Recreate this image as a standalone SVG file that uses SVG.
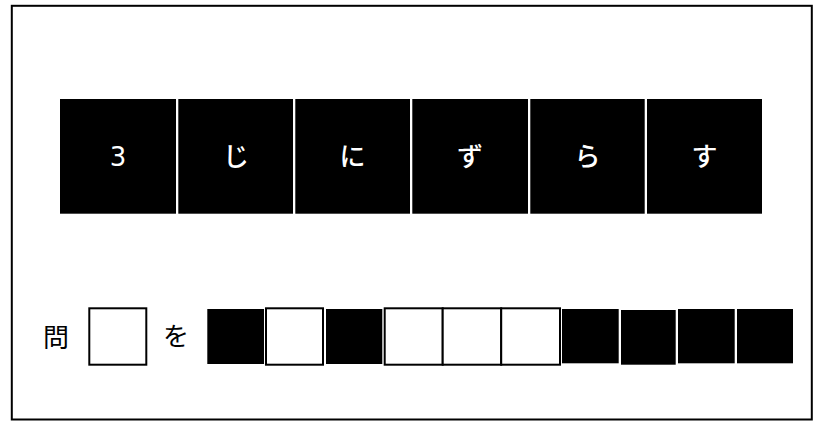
<svg xmlns="http://www.w3.org/2000/svg" width="826" height="432" viewBox="0 0 826 432">
  <style>
    .frame { fill: #ffffff; stroke: #000000; stroke-width: 2; }
    .tile { fill: #000000; }
    .box { fill: #ffffff; stroke: #000000; stroke-width: 2; }
    .wt { fill: #ffffff; font-family: "Noto Sans CJK JP", "Noto Sans", sans-serif; font-size: 26px; font-weight: 500; text-anchor: middle; }
    .num { fill: #ffffff; font-family: "DejaVu Sans", sans-serif; font-size: 26px; text-anchor: middle; }
    .bt { fill: #000000; font-family: "Noto Sans CJK JP", "Noto Sans", sans-serif; font-size: 26px; text-anchor: middle; }
  </style>
  <rect x="0" y="0" width="826" height="432" fill="#ffffff"/>
  <rect id="frame" class="frame" x="11.8" y="5.8" width="800" height="413.7"/>

  <g id="word">
    <g id="w1"><rect class="tile" x="60" y="99" width="116" height="114.7"/><text class="num" x="118" y="166">3</text></g>
    <g id="w2"><rect class="tile" x="178.3" y="99" width="114.7" height="114.7"/><text class="wt" x="236" y="166">じ</text></g>
    <g id="w3"><rect class="tile" x="295.3" y="99" width="114.7" height="114.7"/><text class="wt" x="352.6" y="166">に</text></g>
    <g id="w4"><rect class="tile" x="412.3" y="99" width="115.7" height="114.7"/><text class="wt" x="470.1" y="166">ず</text></g>
    <g id="w5"><rect class="tile" x="530.3" y="99" width="114.4" height="114.7"/><text class="wt" x="587.5" y="166">ら</text></g>
    <g id="w6"><rect class="tile" x="647" y="99" width="115" height="114.7"/><text class="wt" x="704.5" y="166">す</text></g>
  </g>

  <g id="question">
    <text id="q-label" class="bt" x="56" y="346.5">問</text>
    <rect id="q-box" class="box" x="89.3" y="308.3" width="57" height="56.4"/>
    <text id="wo" class="bt" x="176" y="346.3">を</text>
  </g>

  <g id="answer">
    <rect id="a1" class="tile" x="207.3" y="309" width="56.7" height="55"/>
    <rect id="a2" class="box" x="266" y="308.3" width="57" height="56.4"/>
    <rect id="a3" class="tile" x="326" y="309" width="56.3" height="55"/>
    <rect id="a4" class="box" x="384.7" y="308.3" width="58" height="56.4"/>
    <rect id="a5" class="box" x="442.7" y="308.3" width="58.5" height="56.4"/>
    <rect id="a6" class="box" x="501.2" y="308.3" width="58.8" height="56.4"/>
    <rect id="a7" class="tile" x="562" y="309" width="56.7" height="54.3"/>
    <rect id="a8" class="tile" x="621" y="310" width="54.7" height="54.7"/>
    <rect id="a9" class="tile" x="678" y="309" width="56.7" height="54.3"/>
    <rect id="a10" class="tile" x="737" y="309" width="56" height="54.3"/>
  </g>
</svg>
